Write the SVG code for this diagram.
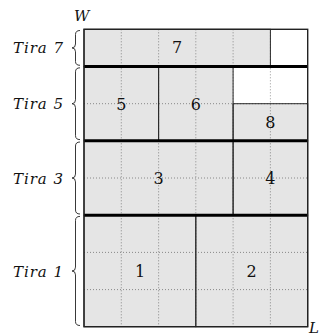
<svg xmlns="http://www.w3.org/2000/svg" width="320" height="336" viewBox="0 0 320 336">
<style>
.grid line{stroke:#8c8c8c;stroke-width:0.9;stroke-dasharray:1 2;}
.box{fill:#000;fill-opacity:0.1;stroke:#2a2a2a;stroke-width:1;}
text{font-family:'DejaVu Serif',serif;fill:#111;}
.num{font-size:16px;text-anchor:middle;}
.tira{font-style:italic;font-size:15px;}
.var{font-style:italic;font-size:15px;}
.brace{fill:none;stroke:#222;stroke-width:0.9;}
.sep{stroke:#000;stroke-width:3;}
</style>
<rect width="320" height="336" fill="#fff"/>
<g class="grid" id="grid">
<line x1="121.3" y1="29.3" x2="121.3" y2="326.7"/>
<line x1="158.6" y1="29.3" x2="158.6" y2="326.7"/>
<line x1="195.8" y1="29.3" x2="195.8" y2="326.7"/>
<line x1="233.1" y1="29.3" x2="233.1" y2="326.7"/>
<line x1="270.4" y1="29.3" x2="270.4" y2="326.7"/>
<line x1="84" y1="103.7" x2="307.7" y2="103.7"/>
<line x1="84" y1="178" x2="307.7" y2="178"/>
<line x1="84" y1="252.4" x2="307.7" y2="252.4"/>
<line x1="84" y1="289.6" x2="307.7" y2="289.6"/>
</g>
<g id="node7"><rect class="box" x="84" y="29.3" width="186.4" height="37.2"/><text class="num" x="177.2" y="53">7</text></g>
<g id="node5"><rect class="box" x="84" y="66.5" width="74.6" height="74.3"/><text class="num" x="121.3" y="109.7">5</text></g>
<g id="node6"><rect class="box" x="158.6" y="66.5" width="74.5" height="74.3"/><text class="num" x="195.8" y="109.7">6</text></g>
<g id="node8"><rect class="box" x="233.1" y="103.7" width="74.6" height="37.1"/><text class="num" x="270.4" y="128.3">8</text></g>
<g id="node3"><rect class="box" x="84" y="140.8" width="149.1" height="74.4"/><text class="num" x="158.6" y="184">3</text></g>
<g id="node4"><rect class="box" x="233.1" y="140.8" width="74.6" height="74.4"/><text class="num" x="270.4" y="184">4</text></g>
<g id="node1"><rect class="box" x="84" y="215.2" width="111.8" height="111.5"/><text class="num" x="140" y="277">1</text></g>
<g id="node2"><rect class="box" x="195.8" y="215.2" width="111.9" height="111.5"/><text class="num" x="251.7" y="277">2</text></g>
<g id="separators">
<line class="sep" x1="84" y1="66.5" x2="307.7" y2="66.5"/>
<line class="sep" x1="84" y1="140.8" x2="307.7" y2="140.8"/>
<line class="sep" x1="84" y1="215.2" x2="307.7" y2="215.2"/>
</g>
<rect id="container" x="84" y="29.3" width="223.7" height="297.4" fill="none" stroke="#222" stroke-width="1.4"/>
<g id="braces">
<path class="brace" d="M80,30.5 Q75.5,30.5 75.5,34.5 L75.5,44 Q75.5,47.9 72,47.9 Q75.5,47.9 75.5,51.8 L75.5,61.5 Q75.5,65.3 80,65.3"/>
<path class="brace" d="M80,67.8 Q75.5,67.8 75.5,71.8 L75.5,99.8 Q75.5,103.7 72,103.7 Q75.5,103.7 75.5,107.6 L75.5,135.6 Q75.5,139.6 80,139.6"/>
<path class="brace" d="M80,142 Q75.5,142 75.5,146 L75.5,174.1 Q75.5,178 72,178 Q75.5,178 75.5,181.9 L75.5,210 Q75.5,214 80,214"/>
<path class="brace" d="M80,216.4 Q75.5,216.4 75.5,220.4 L75.5,267.1 Q75.5,271 72,271 Q75.5,271 75.5,274.9 L75.5,321.5 Q75.5,325.5 80,325.5"/>
</g>
<g id="labels">
<text class="tira" x="13" y="53" textLength="50" lengthAdjust="spacing">Tira 7</text>
<text class="tira" x="13" y="109" textLength="50" lengthAdjust="spacing">Tira 5</text>
<text class="tira" x="13" y="183.5" textLength="50" lengthAdjust="spacing">Tira 3</text>
<text class="tira" x="13" y="276.5" textLength="50" lengthAdjust="spacing">Tira 1</text>
<text class="var" x="74" y="21">W</text>
<text class="var" x="309" y="333" font-size="14">L</text>
</g>
</svg>
